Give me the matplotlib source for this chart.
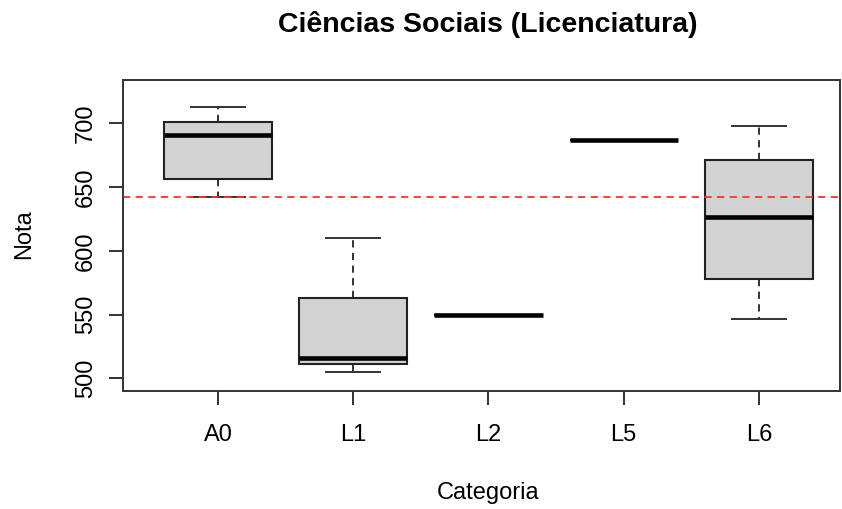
import matplotlib
matplotlib.use("Agg")
from matplotlib import pyplot as plt

plt.rcParams['font.family'] = ['Liberation Sans', 'DejaVu Sans']

# dados
categorias = ['A0', 'L1', 'L2', 'L5', 'L6']
minimo   = [642.0, 505.3, 550.0, 686.9, 546.6]
q1       = [656.3, 511.4, 550.0, 686.9, 578.3]
mediana  = [690.6, 516.3, 550.0, 686.9, 626.9]
q3       = [700.8, 563.1, 550.0, 686.9, 671.5]
maximo   = [713.0, 610.4, 550.0, 686.9, 697.6]
media_geral = 642.2

stats = []
for i in range(len(categorias)):
    stats.append({'label': categorias[i], 'whislo': minimo[i], 'q1': q1[i],
                  'med': mediana[i], 'q3': q3[i], 'whishi': maximo[i],
                  'fliers': []})

fig = plt.figure(figsize=(8.42, 5.09), dpi=100)
ax = fig.add_axes([123.3/842, 1-390.7/509, (840-123.3)/842, (390.7-80)/509])

ax.bxp(stats, positions=range(1, 6), widths=0.8, capwidths=0.4,
       patch_artist=True, showfliers=False,
       boxprops=dict(facecolor='#D3D3D3', edgecolor='#222222', linewidth=1.5),
       medianprops=dict(color='black', linewidth=3.3, solid_capstyle='butt'),
       whiskerprops=dict(color='#222222', linewidth=1.3, linestyle=(0, (4, 3))),
       capprops=dict(color='#333333', linewidth=1.4))

ax.axhline(media_geral, color='#FF3030', linestyle=(0, (4, 3)), linewidth=1.3)

ax.set_xlim(0.3, 5.6)
ax.set_ylim(490.3, 734)
ax.set_yticks([500, 550, 600, 650, 700])
ax.set_xticks(range(1, 6))
ax.set_xticklabels(categorias)
for lab in ax.get_yticklabels():
    lab.set_rotation(90)
    lab.set_va('center')
ax.tick_params(labelsize=17, length=10, width=1.3, color='#222222')
ax.tick_params(axis='x', pad=14)
ax.tick_params(axis='y', pad=9)
for s in ax.spines.values():
    s.set_color('#333333')
    s.set_linewidth(1.4)

fig.text(488/842, 1-25/509, 'Ciências Sociais (Licenciatura)', ha='center',
         va='center', fontsize=20.5, fontweight='bold')
fig.text(488/842, 1-493/509, 'Categoria', ha='center', va='center', fontsize=17)
fig.text(24/842, 1-234/509, 'Nota', ha='center', va='center', fontsize=17,
         rotation=90)

fig.savefig('out.png', dpi=100)
